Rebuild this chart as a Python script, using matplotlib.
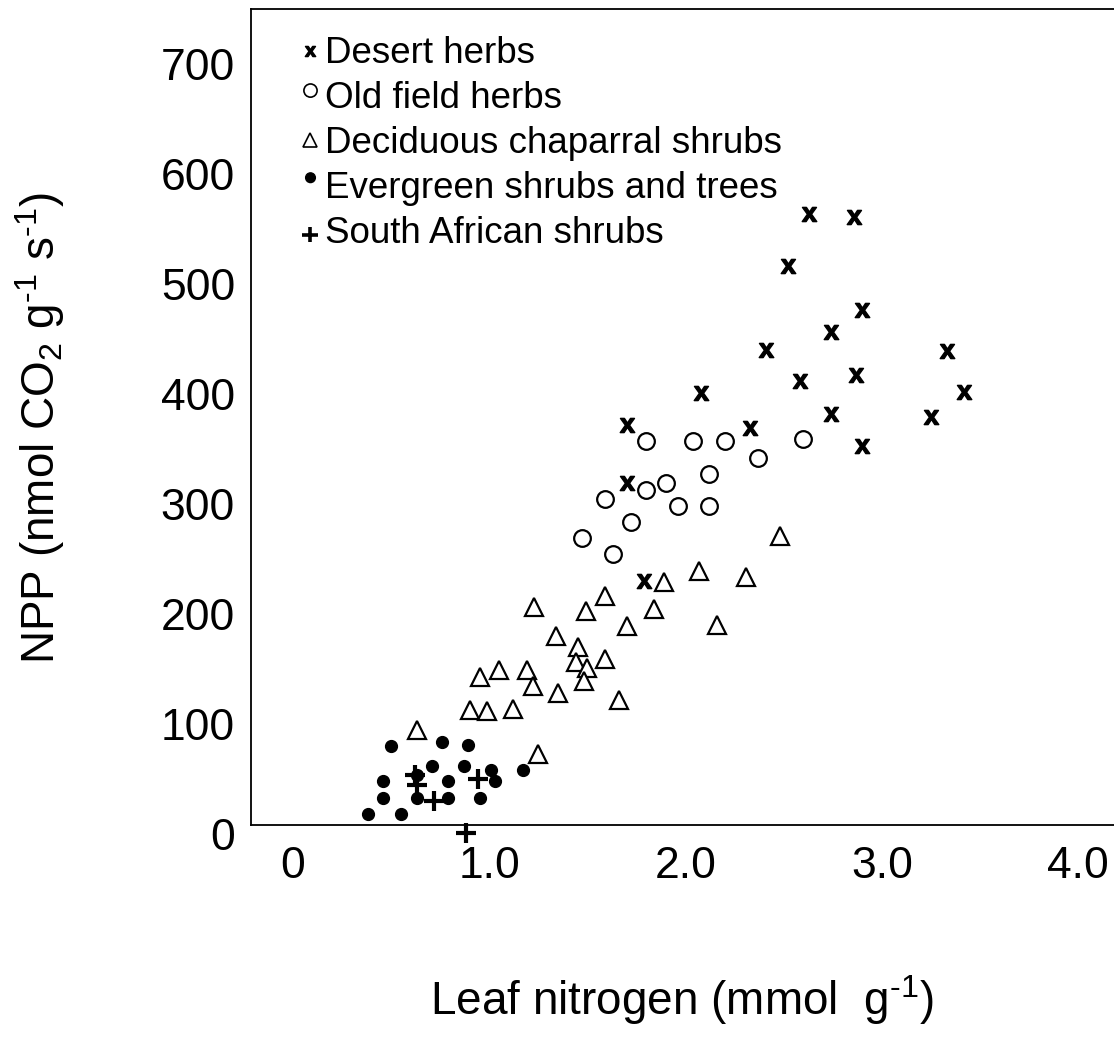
import matplotlib
matplotlib.use("Agg")
import matplotlib.pyplot as plt
from matplotlib.lines import Line2D
from matplotlib.markers import MarkerStyle
from matplotlib.transforms import Affine2D

plt.rcParams['font.family'] = ['Liberation Sans', 'DejaVu Sans']
plt.rcParams['mathtext.fontset'] = 'custom'
plt.rcParams['mathtext.rm'] = 'Liberation Sans'
plt.rcParams['mathtext.it'] = 'Liberation Sans:italic'
plt.rcParams['mathtext.bf'] = 'Liberation Sans:bold'
plt.rcParams['mathtext.default'] = 'regular'

# ---- data (leaf N in mmol g-1, NPP in nmol CO2 g-1 s-1) ----
desert_n = [1.70, 1.70, 1.79, 2.08, 2.33, 2.41, 2.52, 2.58, 2.63, 2.74, 2.74, 2.86, 2.87, 2.90, 2.90, 3.25, 3.33, 3.42]
desert_npp = [372, 319, 230, 401, 369, 440, 516, 412, 564, 456, 382, 561, 417, 476, 353, 379, 439, 402]

oldfield_n = [1.80, 2.04, 2.20, 2.60, 2.37, 2.12, 1.90, 1.80, 1.59, 1.96, 2.12, 1.72, 1.47, 1.63]
oldfield_npp = [357, 357, 357, 359, 342, 327, 319, 313, 305, 298, 298, 284, 269, 255]

decid_n = [0.63, 0.90, 0.99, 0.95, 1.05, 1.12, 1.19, 1.22, 1.23, 1.25, 1.34, 1.35, 1.45, 1.44,
           1.50, 1.48, 1.49, 1.59, 1.59, 1.66, 1.70, 1.84, 1.89, 2.07, 2.16, 2.31, 2.48]
decid_npp = [95, 113, 112, 143, 149, 114, 149, 135, 206, 73, 180, 128, 170, 156,
             151, 139, 203, 216, 159, 122, 189, 205, 229, 239, 190, 234, 271]

evergreen_n = [0.50, 0.76, 0.89, 0.71, 0.87, 1.01, 1.17, 0.63, 0.46, 0.79, 1.03, 0.46, 0.63, 0.79, 0.95, 0.38, 0.55]
evergreen_npp = [80, 84, 81, 62, 62, 58, 58, 54, 48, 48, 48, 33, 33, 33, 33, 18, 18]

safrica_n = [0.62, 0.63, 0.72, 0.94, 0.88]
safrica_npp = [54, 45, 30, 50, 1]

labels = ['Desert herbs', 'Old field herbs', 'Deciduous chaparral shrubs',
          'Evergreen shrubs and trees', 'South African shrubs']
x_ticks = [0, 1, 2, 3, 4]
x_ticklabels = ['0', '1.0', '2.0', '3.0', '4.0']
y_ticks = [0, 100, 200, 300, 400, 500, 600, 700]
y_ticklabels = ['0', '100', '200', '300', '400', '500', '600', '700']

fig = plt.figure(figsize=(11.14, 10.40), dpi=100)
ax = fig.add_axes([251 / 1114, (1040 - 834) / 1040, 863 / 1114, 825 / 1040])

xmark = r'$\mathbf{x}$'
ax.plot(desert_n, desert_npp, linestyle='none', marker=xmark, ms=10.5, color='black', clip_on=False)
ax.plot(oldfield_n, oldfield_npp, linestyle='none', marker='o', ms=12, mfc='white', mec='black', mew=1.6, clip_on=False)
ax.plot(decid_n, decid_npp, linestyle='none', marker='^', ms=13.5, mfc='white', mec='black', mew=1.6, clip_on=False)
ax.plot(evergreen_n, evergreen_npp, linestyle='none', marker='o', ms=8.5, color='black', clip_on=False)
ax.plot(safrica_n, safrica_npp, linestyle='none', marker='+', ms=14, mew=3, color='black', clip_on=False)

ax.set_xlim(-0.214, 4.182)
ax.set_ylim(0, 750)
ax.spines['bottom'].set_position(('data', 8.2))
ax.spines['left'].set_bounds(8.2, 750)
ax.spines['right'].set_visible(False)
for s in ax.spines.values():
    s.set_linewidth(1.3)

ax.set_xticks(x_ticks)
ax.set_xticklabels(x_ticklabels)
ax.set_yticks(y_ticks)
ax.set_yticklabels(y_ticklabels)
ax.tick_params(axis='both', length=0, labelsize=32)
ax.tick_params(axis='x', pad=15)
ax.tick_params(axis='y', pad=11.5)

ax.set_xlabel(r'Leaf nitrogen (mmol  g$^{\text{-}1}$)', fontsize=33)
ax.set_ylabel(r'NPP (nmol CO$_2$ g$^{\text{-}1}$ s$^{\text{-}1}$)', fontsize=33)
ax.xaxis.label.set_va('center')
ax.yaxis.label.set_va('center')
ax.xaxis.set_label_coords(0.4994, -0.2012)
ax.yaxis.set_label_coords(-0.2445, 0.492)

handles = [
    Line2D([], [], linestyle='none', marker=xmark, ms=7.5, color='black'),
    Line2D([], [], linestyle='none', marker=MarkerStyle('o', transform=Affine2D().translate(0, 0.45)),
           ms=9.5, mfc='white', mec='black', mew=1.2),
    Line2D([], [], linestyle='none', marker='^', ms=10.5, mfc='white', mec='black', mew=1.2),
    Line2D([], [], linestyle='none', marker=MarkerStyle('o', transform=Affine2D().translate(0, 0.8)),
           ms=7, color='black'),
    Line2D([], [], linestyle='none', marker=MarkerStyle('+', transform=Affine2D().translate(0, -0.3)),
           ms=11, mew=2.6, color='black'),
]
ax.legend(handles, labels, loc='upper left', bbox_to_anchor=(0.0577, 0.9667),
          frameon=False, fontsize=26.5, handlelength=0.5, handletextpad=0.16,
          borderpad=0, borderaxespad=0, labelspacing=0.27)

fig.savefig('out.png', dpi=100)
